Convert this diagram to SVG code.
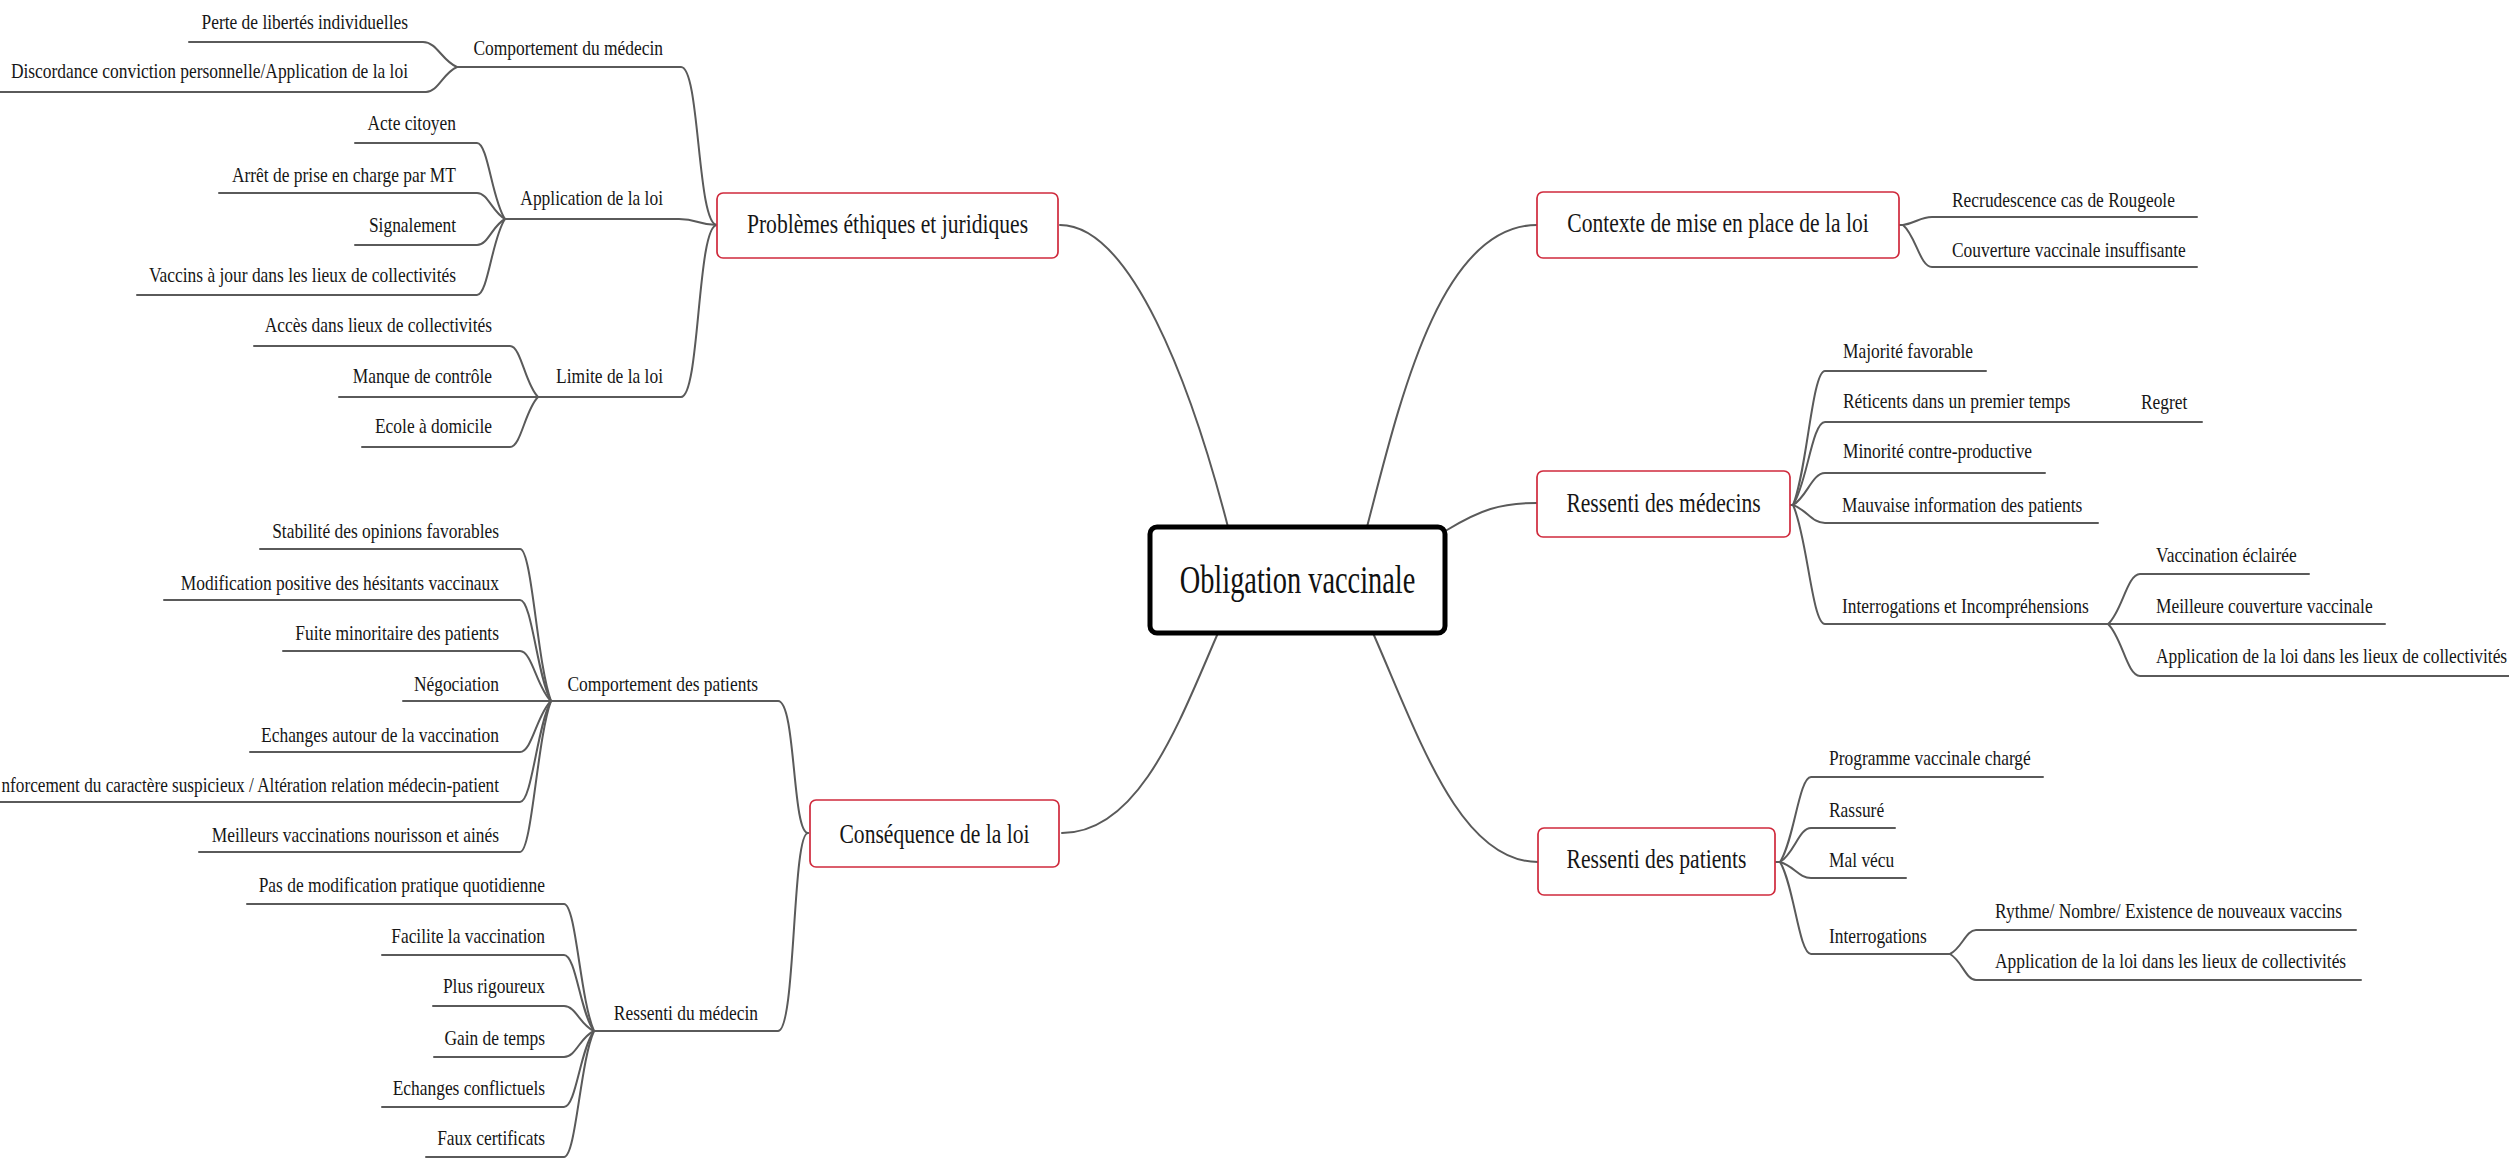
<svg xmlns="http://www.w3.org/2000/svg" width="2509" height="1161" viewBox="0 0 2509 1161">
<style>
.l{font-family:"Liberation Serif","Times New Roman",serif;font-size:20.5px;fill:#161616}
.e{text-anchor:end}
.b{font-family:"Liberation Serif","Times New Roman",serif;font-size:27px;fill:#161616;text-anchor:middle}
.t{font-family:"Liberation Serif","Times New Roman",serif;font-size:40px;fill:#111;text-anchor:middle}
.box{fill:#fff;stroke:#cf2a3c;stroke-width:1.7}
.main{fill:#fff;stroke:#000;stroke-width:5}
.c path{fill:none;stroke:#5a5a5a;stroke-width:2;stroke-linecap:round}
</style>
<rect width="2509" height="1161" fill="#fff"/>
<g class="c" id="connectors">
<!-- main -->
<path d="M1060,225 C1130,225 1190,380 1228,527"/>
<path d="M1367,527 C1400,400 1440,225 1537,225"/>
<path d="M1447,530 C1480,510 1500,503 1537,503"/>
<path d="M1218,633 C1180,720 1140,833 1062,833"/>
<path d="M1373,633 C1420,740 1460,862 1538,862"/>
<!-- Problemes subbranches -->
<path d="M457,67 H681 C700,67 697,225 717,225"/>
<path d="M505,219 H679 C698,219 698,225 717,225"/>
<path d="M538,397 H681 C700,397 697,225 717,225"/>
<path d="M189,42 H423 C437,42 442,61 457,67"/>
<path d="M0,92 H426 C438,92 443,73 457,67"/>
<path d="M355,143 H477 C488,143 492,200 505,219"/>
<path d="M219,193 H477 C488,193 492,212 505,219"/>
<path d="M355,245 H477 C488,245 492,226 505,219"/>
<path d="M137,295 H477 C488,295 492,238 505,219"/>
<path d="M254,346 H510 C521,346 525,384 538,397"/>
<path d="M339,397 H538"/>
<path d="M362,447 H510 C521,447 525,410 538,397"/>
<!-- Consequence subbranches -->
<path d="M551,701 H778 C796,701 792,833 808,833"/>
<path d="M594,1031 H778 C796,1031 792,833 808,833"/>
<path d="M260,549 H520 C532,549 537,663 551,701"/>
<path d="M164,600 H520 C532,600 537,676 551,701"/>
<path d="M283,651 H520 C532,651 537,688 551,701"/>
<path d="M403,701 H551"/>
<path d="M250,752 H520 C532,752 537,714 551,701"/>
<path d="M0,802 H520 C532,802 537,726 551,701"/>
<path d="M199,852 H520 C532,852 537,739 551,701"/>
<path d="M247,904 H564 C576,904 580,999 594,1031"/>
<path d="M382,955 H564 C576,955 580,1012 594,1031"/>
<path d="M433,1006 H564 C576,1006 580,1025 594,1031"/>
<path d="M434,1057 H564 C576,1057 580,1037 594,1031"/>
<path d="M382,1107 H564 C576,1107 580,1050 594,1031"/>
<path d="M426,1157 H564 C576,1157 580,1062 594,1031"/>
<!-- Contexte -->
<path d="M1900,225 H1903 C1916,223 1920,217 1932,217 H2197"/>
<path d="M1903,225 C1916,236 1920,267 1932,267 H2197"/>
<!-- Ressenti des medecins -->
<path d="M1790,505 H1793 C1807,472 1812,371 1825,371 H1986"/>
<path d="M1793,505 C1807,484 1812,422 1825,422 H2202"/>
<path d="M1793,505 C1807,497 1812,473 1825,473 H2045"/>
<path d="M1793,505 C1807,510 1812,523 1825,523 H2098"/>
<path d="M1793,505 C1807,535 1812,624 1825,624 H2108"/>
<path d="M2108,624 C2122,612 2127,574 2140,574 H2309"/>
<path d="M2108,624 H2385"/>
<path d="M2108,624 C2122,637 2127,676 2140,676 H2509"/>
<!-- Ressenti des patients -->
<path d="M1776,862 H1780 C1794,841 1799,777 1811,777 H2043"/>
<path d="M1780,862 C1794,854 1799,828 1811,828 H1895"/>
<path d="M1780,862 C1794,866 1799,878 1811,878 H1906"/>
<path d="M1780,862 C1794,885 1799,954 1811,954 H1950"/>
<path d="M1950,954 C1962,948 1966,930 1976,930 H2356"/>
<path d="M1950,954 C1962,961 1966,980 1976,980 H2361"/>
</g>

<g id="root"><rect class="main" x="1150" y="527" width="295" height="106" rx="7"/><text class="t" transform="translate(1297.5 593) scale(.71 1)">Obligation vaccinale</text></g>

<g id="problemes"><rect class="box" x="717" y="193" width="341" height="65" rx="6"/><text class="b" transform="translate(887.5 233) scale(.8 1)">Problèmes éthiques et juridiques</text></g>
<g id="contexte"><rect class="box" x="1537" y="192" width="362" height="66" rx="6"/><text class="b" transform="translate(1718 232) scale(.8 1)">Contexte de mise en place de la loi</text></g>
<g id="ressenti-medecins"><rect class="box" x="1537" y="471" width="253" height="66" rx="6"/><text class="b" transform="translate(1663.5 512) scale(.8 1)">Ressenti des médecins</text></g>
<g id="consequence"><rect class="box" x="810" y="800" width="249" height="67" rx="6"/><text class="b" transform="translate(934.5 843) scale(.8 1)">Conséquence de la loi</text></g>
<g id="ressenti-patients"><rect class="box" x="1538" y="828" width="237" height="67" rx="6"/><text class="b" transform="translate(1656.5 868) scale(.8 1)">Ressenti des patients</text></g>

<g id="comp-med"><text class="l e" transform="translate(663 55) scale(.85 1)">Comportement du médecin</text></g>
<g id="perte"><text class="l e" transform="translate(408 29) scale(.85 1)">Perte de libertés individuelles</text></g>
<g id="discordance"><text class="l e" transform="translate(408 78) scale(.85 1)">Discordance conviction personnelle/Application de la loi</text></g>
<g id="application"><text class="l e" transform="translate(663 205) scale(.85 1)">Application de la loi</text></g>
<g id="acte"><text class="l e" transform="translate(456 130) scale(.85 1)">Acte citoyen</text></g>
<g id="arret"><text class="l e" transform="translate(456 182) scale(.85 1)">Arrêt de prise en charge par MT</text></g>
<g id="signalement"><text class="l e" transform="translate(456 232) scale(.85 1)">Signalement</text></g>
<g id="vaccins-jour"><text class="l e" transform="translate(456 282) scale(.85 1)">Vaccins à jour dans les lieux de collectivités</text></g>
<g id="limite"><text class="l e" transform="translate(663 383) scale(.85 1)">Limite de la loi</text></g>
<g id="acces"><text class="l e" transform="translate(492 332) scale(.85 1)">Accès dans lieux de collectivités</text></g>
<g id="manque"><text class="l e" transform="translate(492 383) scale(.85 1)">Manque de contrôle</text></g>
<g id="ecole"><text class="l e" transform="translate(492 433) scale(.85 1)">Ecole à domicile</text></g>

<g id="comp-pat"><text class="l e" transform="translate(758 691) scale(.85 1)">Comportement des patients</text></g>
<g id="stabilite"><text class="l e" transform="translate(499 538) scale(.85 1)">Stabilité des opinions favorables</text></g>
<g id="modification"><text class="l e" transform="translate(499 590) scale(.85 1)">Modification positive des hésitants vaccinaux</text></g>
<g id="fuite"><text class="l e" transform="translate(499 640) scale(.85 1)">Fuite minoritaire des patients</text></g>
<g id="negociation"><text class="l e" transform="translate(499 691) scale(.85 1)">Négociation</text></g>
<g id="echanges"><text class="l e" transform="translate(499 742) scale(.85 1)">Echanges autour de la vaccination</text></g>
<g id="renforcement"><text class="l e" transform="translate(499 792) scale(.84 1)">nforcement du caractère suspicieux / Altération relation médecin-patient</text></g>
<g id="meilleurs"><text class="l e" transform="translate(499 842) scale(.85 1)">Meilleurs vaccinations nourisson et ainés</text></g>
<g id="ress-med"><text class="l e" transform="translate(758 1020) scale(.85 1)">Ressenti du médecin</text></g>
<g id="pas-modif"><text class="l e" transform="translate(545 892) scale(.85 1)">Pas de modification pratique quotidienne</text></g>
<g id="facilite"><text class="l e" transform="translate(545 943) scale(.85 1)">Facilite la vaccination</text></g>
<g id="rigoureux"><text class="l e" transform="translate(545 993) scale(.85 1)">Plus rigoureux</text></g>
<g id="gain"><text class="l e" transform="translate(545 1045) scale(.85 1)">Gain de temps</text></g>
<g id="conflictuels"><text class="l e" transform="translate(545 1095) scale(.85 1)">Echanges conflictuels</text></g>
<g id="faux"><text class="l e" transform="translate(545 1145) scale(.85 1)">Faux certificats</text></g>

<g id="recrudescence"><text class="l" transform="translate(1952 207) scale(.85 1)">Recrudescence cas de Rougeole</text></g>
<g id="couverture"><text class="l" transform="translate(1952 257) scale(.85 1)">Couverture vaccinale insuffisante</text></g>
<g id="majorite"><text class="l" transform="translate(1843 358) scale(.85 1)">Majorité favorable</text></g>
<g id="reticents"><text class="l" transform="translate(1843 408) scale(.85 1)">Réticents dans un premier temps</text></g>
<g id="regret"><text class="l" transform="translate(2141 409) scale(.85 1)">Regret</text></g>
<g id="minorite"><text class="l" transform="translate(1843 458) scale(.85 1)">Minorité contre-productive</text></g>
<g id="mauvaise"><text class="l" transform="translate(1842 512) scale(.85 1)">Mauvaise information des patients</text></g>
<g id="interro-incomp"><text class="l" transform="translate(1842 613) scale(.85 1)">Interrogations et Incompréhensions</text></g>
<g id="eclairee"><text class="l" transform="translate(2156 562) scale(.85 1)">Vaccination éclairée</text></g>
<g id="meilleure-couv"><text class="l" transform="translate(2156 613) scale(.85 1)">Meilleure couverture vaccinale</text></g>
<g id="app-lieux-1"><text class="l" transform="translate(2156 663) scale(.85 1)">Application de la loi dans les lieux de collectivités</text></g>
<g id="programme"><text class="l" transform="translate(1829 765) scale(.85 1)">Programme vaccinale chargé</text></g>
<g id="rassure"><text class="l" transform="translate(1829 817) scale(.85 1)">Rassuré</text></g>
<g id="mal-vecu"><text class="l" transform="translate(1829 867) scale(.85 1)">Mal vécu</text></g>
<g id="interrogations"><text class="l" transform="translate(1829 943) scale(.85 1)">Interrogations</text></g>
<g id="rythme"><text class="l" transform="translate(1995 918) scale(.85 1)">Rythme/ Nombre/ Existence de nouveaux vaccins</text></g>
<g id="app-lieux-2"><text class="l" transform="translate(1995 968) scale(.85 1)">Application de la loi dans les lieux de collectivités</text></g>
</svg>
